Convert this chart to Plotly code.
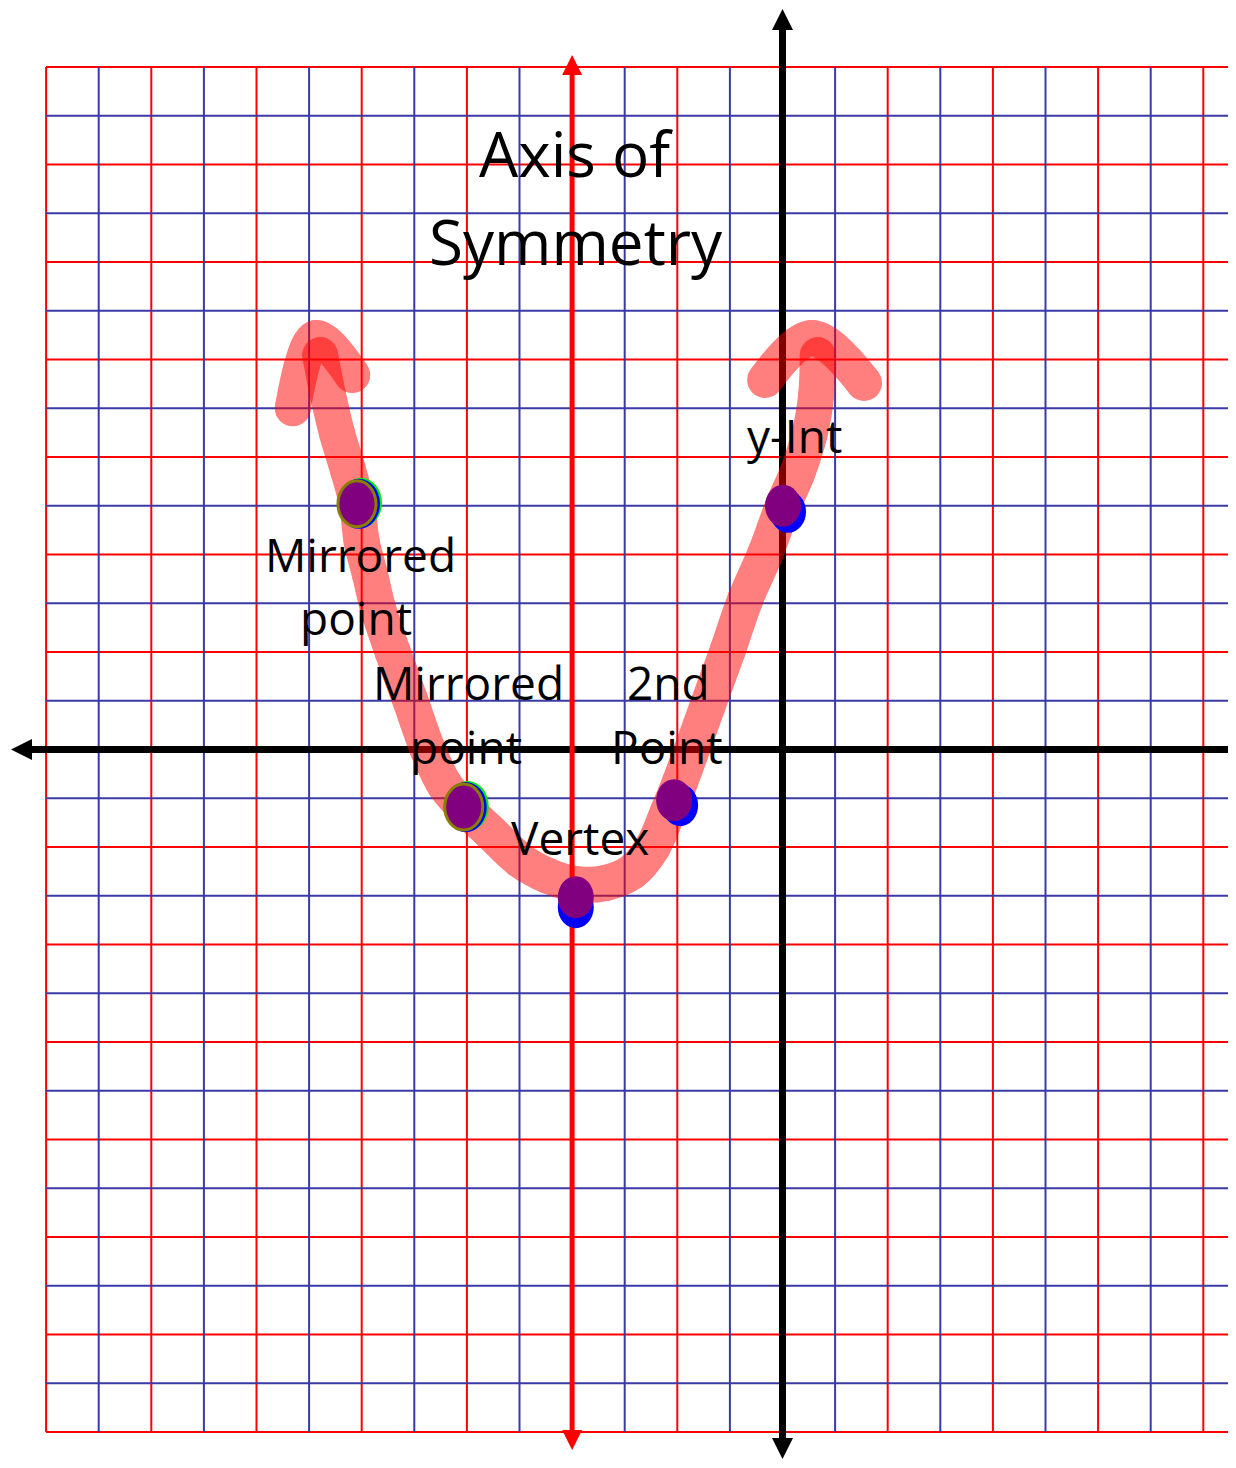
import plotly.graph_objects as go

# ---------------- data (graph units) ----------------
# hand-drawn parabola stroke (left arrow tip -> right arrow tip)
curve_x = [-8.79, -8.64, -8.47, -8.26, -8.09, -8.00, -7.84, -7.69, -7.41, -7.08,
           -6.74, -6.42, -6.06, -5.56, -4.99, -4.46, -3.93, -3.37, -2.86, -2.48,
           -2.18, -1.95, -1.76, -1.42, -1.04, -0.71, -0.33, 0.01, 0.28, 0.52,
           0.64, 0.67]
curve_y = [8.09, 7.27, 6.49, 5.73, 5.04, 4.26, 3.58, 2.90, 2.00, 1.02,
           -0.01, -0.73, -1.18, -1.69, -2.27, -2.59, -2.76, -2.74, -2.51, -2.02,
           -1.28, -0.67, -0.11, 0.91, 2.04, 3.07, 4.01, 5.00, 5.67, 6.49,
           7.27, 8.09]
left_head_x = [-9.31, -8.87, -8.18]
left_head_y = [7.00, 8.44, 7.68]
right_head_x = [-0.33, 0.56, 1.55]
right_head_y = [7.58, 8.44, 7.52]

# plotted points
point_names = ["Mirrored point", "Mirrored point", "Vertex", "2nd Point", "y-Int"]
point_x = [-8.09, -6.06, -3.93, -2.06, 0.01]
point_y = [5.04, -1.18, -3.03, -1.04, 5.00]

# grid values
grid_x = list(range(-14, 9))
grid_y = list(range(-14, 15))
axis_of_symmetry_x = -4

# ---------------- layout constants ----------------
VW, VH = 1236, 1468           # browser window
PAD = 8                       # default page margin around the plot div
W, H = VW - PAD, VH - 2 * PAD # figure size so the page does not scroll
PX_X = 52.6                   # pixels per x unit
PX_Y = 48.75                  # pixels per y unit
X0_PX = 782.5                 # window pixel x of x = 0
Y14_PX = 67                   # window pixel y of y = 14
XR = [(PAD - X0_PX) / PX_X, (PAD + W - X0_PX) / PX_X]
YR = [14 - (PAD + H - Y14_PX) / PX_Y, 14 + (Y14_PX - PAD) / PX_Y]

RED = "#ff0000"
BLUE = "#3a3aa6"
FONT = "Open Sans"

fig = go.Figure()


def add_line(xs, ys, color, width, **kw):
    fig.add_trace(go.Scatter(x=xs, y=ys, mode="lines",
                             line=dict(color=color, width=width),
                             hoverinfo="skip", showlegend=False, **kw))


# grid lines
for parity, color in ((0, RED), (1, BLUE)):
    xs, ys = [], []
    for gx in grid_x:
        if gx % 2 == parity:
            xs += [gx, gx, None]
            ys += [grid_y[0], grid_y[-1], None]
    for gy in grid_y:
        if gy % 2 == parity:
            xs += [grid_x[0], grid_x[-1] + 1, None]
            ys += [gy, gy, None]
    add_line(xs, ys, color, 2)

# main axes (black, with arrow heads)
ytop = 14 + (Y14_PX - 9) / PX_Y
ybot = 14 - (1459 - Y14_PX) / PX_Y
xleft = (11 - X0_PX) / PX_X
add_line([0, 0], [ybot + 0.3, ytop - 0.3], "black", 7)
add_line([xleft + 0.3, XR[1] + 1], [0, 0], "black", 7)
fig.add_trace(go.Scatter(
    x=[0, 0, xleft], y=[ytop, ybot, 0], mode="markers",
    marker=dict(symbol=["arrow-up", "arrow-down", "arrow-left"], size=21,
                color="black", line=dict(width=0)),
    cliponaxis=False, hoverinfo="skip", showlegend=False))

# axis of symmetry (red, with arrow heads)
s_top = 14 + (Y14_PX - 55) / PX_Y
s_bot = 14 - (1450 - Y14_PX) / PX_Y
add_line([axis_of_symmetry_x] * 2, [s_bot + 0.3, s_top - 0.3], RED, 5)
fig.add_trace(go.Scatter(
    x=[axis_of_symmetry_x] * 2, y=[s_top, s_bot], mode="markers",
    marker=dict(symbol=["arrow-up", "arrow-down"], size=20, color=RED,
                line=dict(width=0)),
    hoverinfo="skip", showlegend=False))

# hand-drawn curve (semi-transparent thick pink strokes)
STROKE = 36
for xs, ys in ((curve_x, curve_y), (left_head_x, left_head_y),
               (right_head_x, right_head_y)):
    fig.add_trace(go.Scatter(
        x=xs, y=ys, mode="lines+markers",
        line=dict(color=RED, width=STROKE, shape="spline"),
        marker=dict(color=RED, size=STROKE, line=dict(width=0)),
        opacity=0.5, hoverinfo="skip", showlegend=False))

# points as ellipses (with the coloured "under-layer" seen in the picture)
RX, RY = 18, 21          # ellipse half-size in pixels
under = {  # label -> (colour layers with offsets in px (dx, dy down), outlined)
    "Mirrored point": ([("#00ee00", 4, -1), ("#0000ff", 2, 0)], True),
    "Vertex": ([("#0000ff", 0, 10)], False),
    "2nd Point": ([("#0000ff", 6, 5)], False),
    "y-Int": ([("#0000ff", 5, 6)], False),
}


def ellipse(cx, cy, fill, dx=0, dy=0, rx=RX, ry=RY, lc=None, lw=0):
    fig.add_shape(type="circle", xref="x", yref="y",
                  x0=cx + (dx - rx) / PX_X, x1=cx + (dx + rx) / PX_X,
                  y0=cy - (dy + ry) / PX_Y, y1=cy - (dy - ry) / PX_Y,
                  fillcolor=fill,
                  line=dict(color=lc if lc else fill, width=lw))


for name, px_, py_ in zip(point_names, point_x, point_y):
    layers, outlined = under[name]
    for col, dx, dy in layers:
        if outlined:
            ellipse(px_, py_, col, dx, dy, rx=RX + 3, ry=RY + 4)
        else:
            ellipse(px_, py_, col, dx, dy)
    if outlined:
        ellipse(px_, py_, "#800080", rx=RX + 1, ry=RY + 2, lc="#8a7d00", lw=3)
    else:
        ellipse(px_, py_, "#800080")

# text labels (window pixel positions of each text line)
labels = [
    ("Axis of", 576, 153, 62),
    ("Symmetry", 576, 241, 62),
    ("Mirrored", 360, 554, 46),
    ("point", 356, 617, 46),
    ("Mirrored", 468, 682, 46),
    ("point", 466, 746, 46),
    ("2nd", 668, 682, 46),
    ("Point", 667, 746, 46),
    ("y-Int", 795, 435, 46),
    ("Vertex", 580, 837, 46),
]
for txt, lx, ly, fs in labels:
    fig.add_annotation(text=txt, xref="paper", yref="paper",
                       x=(lx - PAD) / W, y=1 - (ly - PAD) / H,
                       xanchor="center", yanchor="middle",
                       showarrow=False, font=dict(family=FONT, size=fs, color="black"))

fig.update_layout(
    width=W, height=H, margin=dict(l=0, r=0, t=0, b=0),
    paper_bgcolor="white", plot_bgcolor="white",
    xaxis=dict(range=XR, visible=False, fixedrange=True),
    yaxis=dict(range=YR, visible=False, fixedrange=True),
    showlegend=False, hovermode=False,
)

fig.write_html("out.html")
